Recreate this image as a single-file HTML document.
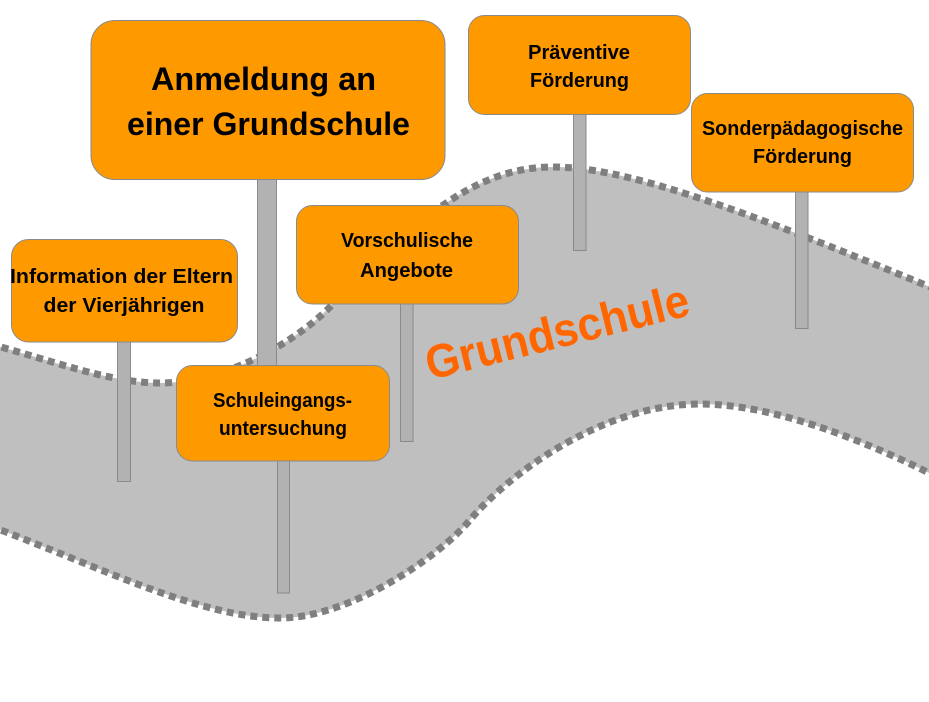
<!DOCTYPE html>
<html>
<head>
<meta charset="utf-8">
<style>
  html, body { margin: 0; padding: 0; background: #ffffff; }
  body { width: 929px; height: 702px; overflow: hidden; }
  svg { display: block; }
  text { font-family: "Liberation Sans", "DejaVu Sans", sans-serif; font-weight: bold; }
</style>
</head>
<body>
<svg width="929" height="702" viewBox="0 0 929 702" xmlns="http://www.w3.org/2000/svg">
  <rect x="0" y="0" width="929" height="702" fill="#ffffff"/>

  <!-- road fill -->
  <path d="M -10 344 C 50 360, 110 383, 160 383 C 220 383, 290 347, 330 307 C 410 227, 470 167, 553 167 C 620 167, 720 200, 935 289 L 935 476 C 880 448, 780 404, 700 404 C 600 404, 505 478, 470 520 C 440 556, 350 618, 280 618 C 200 618, 100 567, -10 526 Z" fill="#bfbfbf"/>

  <!-- road edges (dashed) -->
  <path d="M -10 344 C 50 360, 110 383, 160 383 C 220 383, 290 347, 330 307 C 410 227, 470 167, 553 167 C 620 167, 720 200, 935 289" fill="none" stroke="#7f7f7f" stroke-width="7" stroke-dasharray="7 5"/>
  <path d="M -10 526 C 100 567, 200 618, 280 618 C 350 618, 440 556, 470 520 C 505 478, 600 404, 700 404 C 780 404, 880 448, 935 476" fill="none" stroke="#7f7f7f" stroke-width="7" stroke-dasharray="7 5"/>

  <!-- Grundschule label -->
  <text x="430" y="380" transform="rotate(-14 430 380)" font-size="47" fill="#ff6600" textLength="270" lengthAdjust="spacingAndGlyphs">Grundschule</text>

  <!-- poles -->
  <g fill="#b2b2b2" stroke="#8a8a8a" stroke-width="1">
    <rect x="257.5" y="178" width="19" height="190"/>
    <rect x="117.5" y="340" width="13" height="141.5"/>
    <rect x="277.5" y="459" width="12" height="134"/>
    <rect x="400.5" y="302" width="12.5" height="139.5"/>
    <rect x="573.5" y="112" width="12.5" height="138.5"/>
    <rect x="795.5" y="190" width="12.5" height="138.5"/>
  </g>

  <!-- boxes -->
  <g fill="#ff9900" stroke="#8a8a8a" stroke-width="1">
    <rect x="91" y="20.5" width="354" height="159" rx="24" ry="24"/>
    <rect x="468.5" y="15.5" width="222" height="99" rx="16" ry="16"/>
    <rect x="691.5" y="93.5" width="222" height="98.5" rx="16" ry="16"/>
    <rect x="296.5" y="205.5" width="222" height="98.5" rx="16" ry="16"/>
    <rect x="11.5" y="239.5" width="226" height="102.5" rx="17" ry="17"/>
    <rect x="176.5" y="365.5" width="213" height="95.5" rx="16" ry="16"/>
  </g>

  <!-- box labels -->
  <g fill="#000000" text-anchor="middle">
    <text x="263.5" y="90" font-size="32" textLength="225" lengthAdjust="spacingAndGlyphs">Anmeldung an</text>
    <text x="268.5" y="135" font-size="32" textLength="283" lengthAdjust="spacingAndGlyphs">einer Grundschule</text>

    <text x="579" y="59" font-size="20" textLength="102" lengthAdjust="spacingAndGlyphs">Präventive</text>
    <text x="579.5" y="87" font-size="20" textLength="99" lengthAdjust="spacingAndGlyphs">Förderung</text>

    <text x="802.5" y="135" font-size="20" textLength="201" lengthAdjust="spacingAndGlyphs">Sonderpädagogische</text>
    <text x="802.5" y="163" font-size="20" textLength="99" lengthAdjust="spacingAndGlyphs">Förderung</text>

    <text x="407" y="247" font-size="20" textLength="132" lengthAdjust="spacingAndGlyphs">Vorschulische</text>
    <text x="406.5" y="277" font-size="20" textLength="93" lengthAdjust="spacingAndGlyphs">Angebote</text>

    <text x="121.5" y="283" font-size="20" textLength="223" lengthAdjust="spacingAndGlyphs">Information der Eltern</text>
    <text x="124" y="312" font-size="20" textLength="161" lengthAdjust="spacingAndGlyphs">der Vierjährigen</text>

    <text x="282.5" y="407" font-size="20" textLength="139" lengthAdjust="spacingAndGlyphs">Schuleingangs-</text>
    <text x="283" y="435" font-size="20" textLength="128" lengthAdjust="spacingAndGlyphs">untersuchung</text>
  </g>
</svg>
</body>
</html>
